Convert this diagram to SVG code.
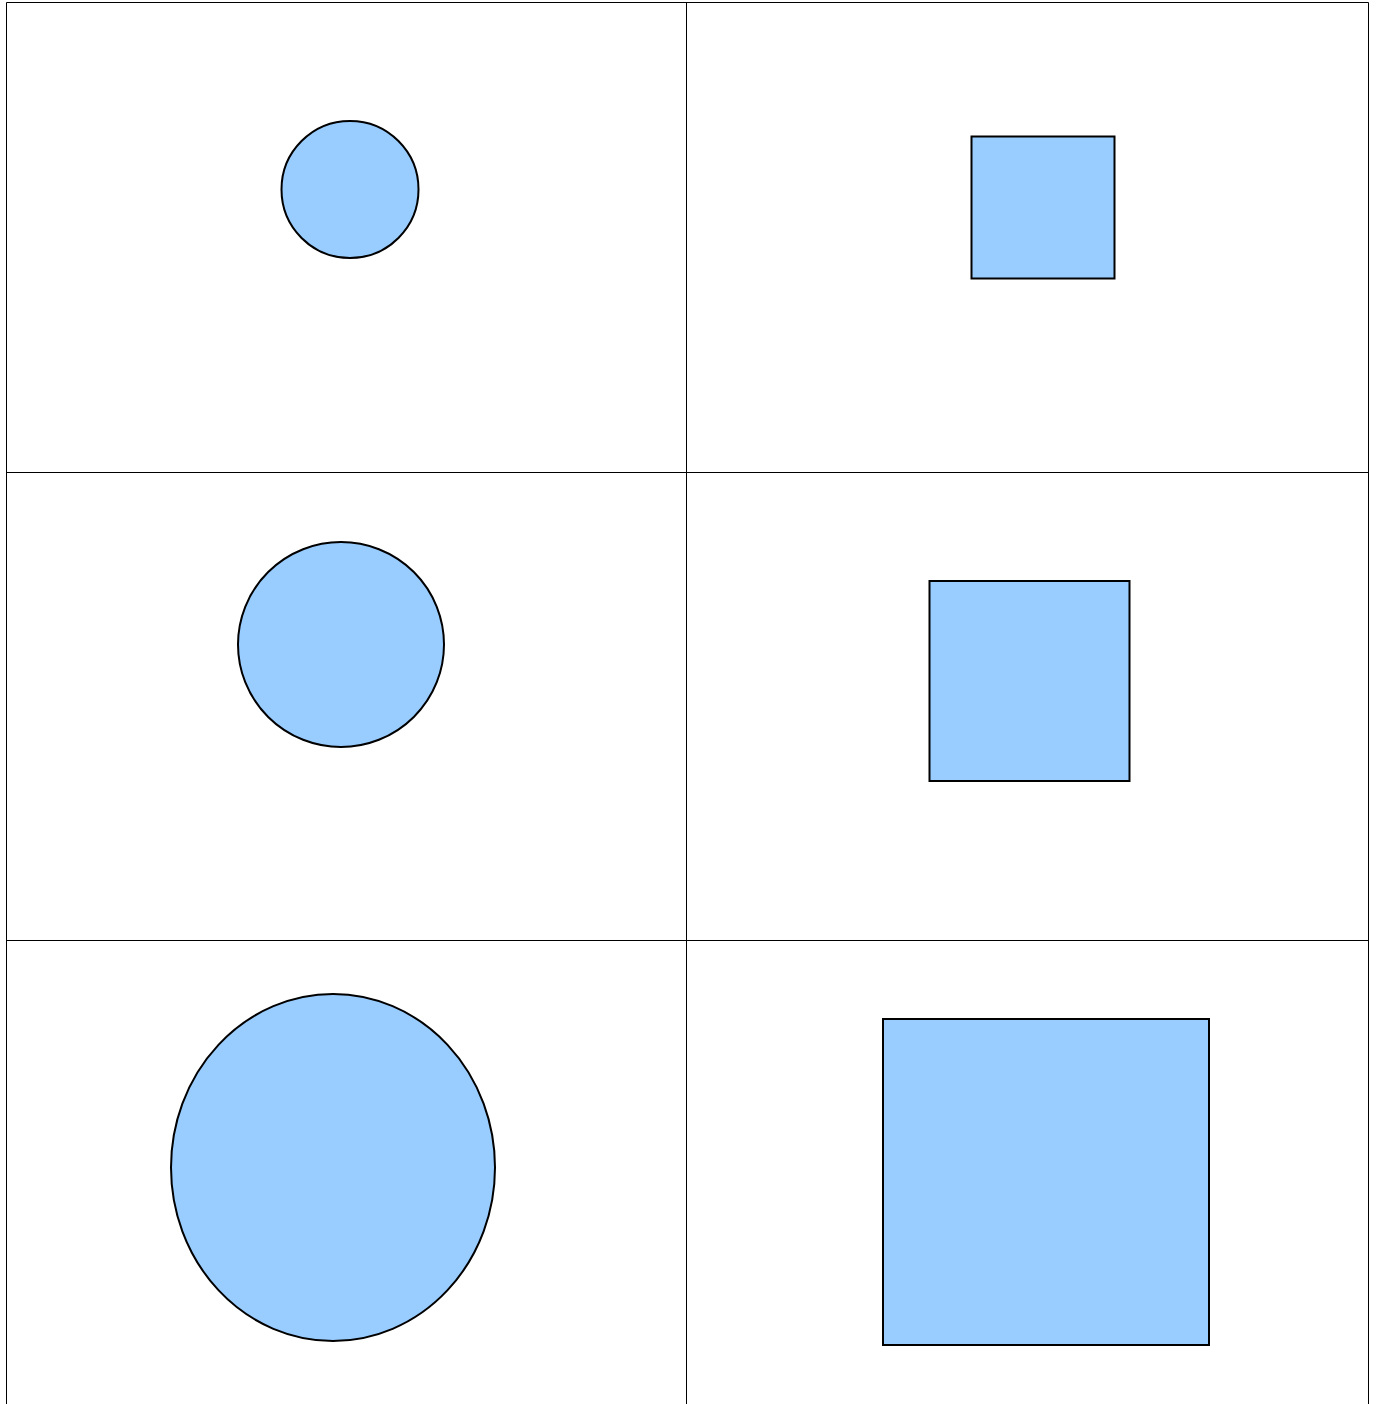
<svg xmlns="http://www.w3.org/2000/svg" width="1377" height="1404" viewBox="0 0 1377 1404">
<style>
.grid{stroke:#000;stroke-width:1;fill:none}
.shape{fill:#99ccff;stroke:#000;stroke-width:2}
</style>
<rect width="1377" height="1404" fill="#fff"/>
<g id="grid">
<path class="grid" d="M6.5 1404V2.5H1368.5V1404M686.5 2.5V1404M6.5 472.5H1368.5M6.5 940.5H1368.5"/>
</g>
<g id="circle1"><circle class="shape" cx="350" cy="189.5" r="68.5"/></g>
<g id="square1"><rect class="shape" x="971.5" y="136.5" width="143" height="142"/></g>
<g id="circle2"><ellipse class="shape" cx="341" cy="644.5" rx="103" ry="102.5"/></g>
<g id="square2"><rect class="shape" x="929.5" y="581" width="200" height="200"/></g>
<g id="circle3"><ellipse class="shape" cx="333" cy="1167.5" rx="162" ry="173.5"/></g>
<g id="square3"><rect class="shape" x="883" y="1019" width="326" height="326"/></g>
</svg>
